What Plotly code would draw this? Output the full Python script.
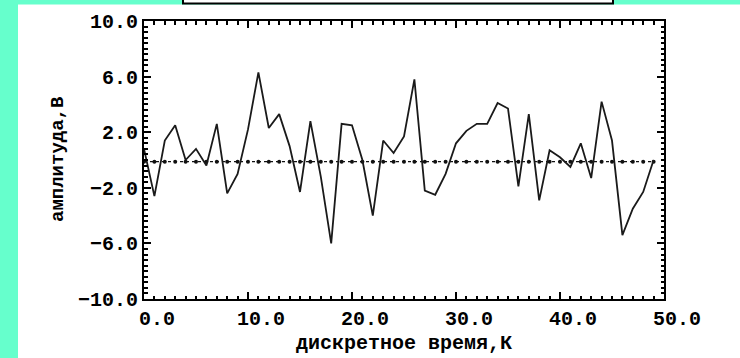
import plotly.graph_objects as go

# ---- data ----
k_values = list(range(50))
amplitude = [0.8, -2.6, 1.4, 2.5, 0.0, 0.8, -0.4, 2.6, -2.4, -1.0,
             2.2, 6.3, 2.3, 3.3, 1.0, -2.3, 2.8, -1.2, -6.0, 2.6,
             2.5, 0.0, -4.0, 1.4, 0.5, 1.7, 5.8, -2.2, -2.5, -1.0,
             1.2, 2.1, 2.6, 2.6, 4.1, 3.7, -1.9, 3.3, -2.9, 0.7,
             0.2, -0.5, 1.2, -1.3, 4.2, 1.4, -5.4, -3.5, -2.3, 0.0]
baseline_level = -0.12
baseline = [baseline_level] * len(k_values)

x_title = "дискретное время,К"
y_title = "амплитуда,В"

W, H = 740, 358
L, R, T, B = 144, 664, 21, 299  # plot area in px
PW, PH = R - L, B - T

def px(x):
    return (x - L) / PW

def py(y):
    return (B - y) / PH

FONT = "Liberation Mono"
CYAN = "#66FFCC"

fig = go.Figure()
fig.add_trace(go.Scatter(x=k_values, y=baseline, mode="lines+markers",
                         line=dict(color="#111", width=1.2, dash="dot"),
                         marker=dict(color="#111", size=4),
                         hoverinfo="skip", showlegend=False))
fig.add_trace(go.Scatter(x=k_values, y=amplitude, mode="lines",
                         line=dict(color="#1a1a1a", width=1.8),
                         showlegend=False))

axis_common = dict(showline=True, linecolor="black", linewidth=2, mirror="allticks",
                   ticks="inside", ticklen=7, tickwidth=2, tickcolor="black",
                   showgrid=False, zeroline=False, tickformat=".1f",
                   tickfont=dict(family=FONT, size=20, color="black", weight="bold"))

fig.update_xaxes(range=[0, 50], tick0=0, dtick=10, ticklabelshift=13,
                 minor=dict(ticks="inside", ticklen=3.5, tickwidth=1.5, dtick=1,
                            tickcolor="black", showgrid=False),
                 **axis_common)
fig.update_yaxes(range=[-10, 10], tick0=-10, dtick=4,
                 minor=dict(ticks="inside", ticklen=3.5, tickwidth=1.5, dtick=0.4,
                            tickcolor="black", showgrid=False),
                 **axis_common)

shapes = [
    dict(type="rect", xref="paper", yref="paper", x0=px(-5), x1=px(18),
         y0=py(365), y1=py(-5), fillcolor=CYAN, line=dict(width=0), layer="below"),
    dict(type="rect", xref="paper", yref="paper", x0=px(-5), x1=px(745),
         y0=py(4.5), y1=py(-5), fillcolor=CYAN, line=dict(width=0), layer="below"),
    dict(type="rect", xref="paper", yref="paper", x0=px(183), x1=px(613),
         y0=py(3.5), y1=py(-6), fillcolor="white", line=dict(color="black", width=2),
         layer="below"),
]

annotations = [
    dict(text=x_title, xref="paper", yref="paper", x=px(404), y=py(343),
         xanchor="center", yanchor="middle", showarrow=False,
         font=dict(family=FONT, size=20, color="black", weight="bold")),
    dict(text=y_title, xref="paper", yref="paper", x=px(58), y=py(160),
         xanchor="center", yanchor="middle", showarrow=False, textangle=-90,
         font=dict(family=FONT, size=19, color="black", weight="bold")),
]

fig.update_layout(width=W, height=H,
                  margin=dict(l=L, r=W - R, t=T, b=H - B, pad=0),
                  paper_bgcolor="white", plot_bgcolor="white",
                  shapes=shapes, annotations=annotations)

fig.write_html("out.html", config={"displayModeBar": False},
               post_script="document.body.style.margin='0';document.body.style.overflow='hidden';")
